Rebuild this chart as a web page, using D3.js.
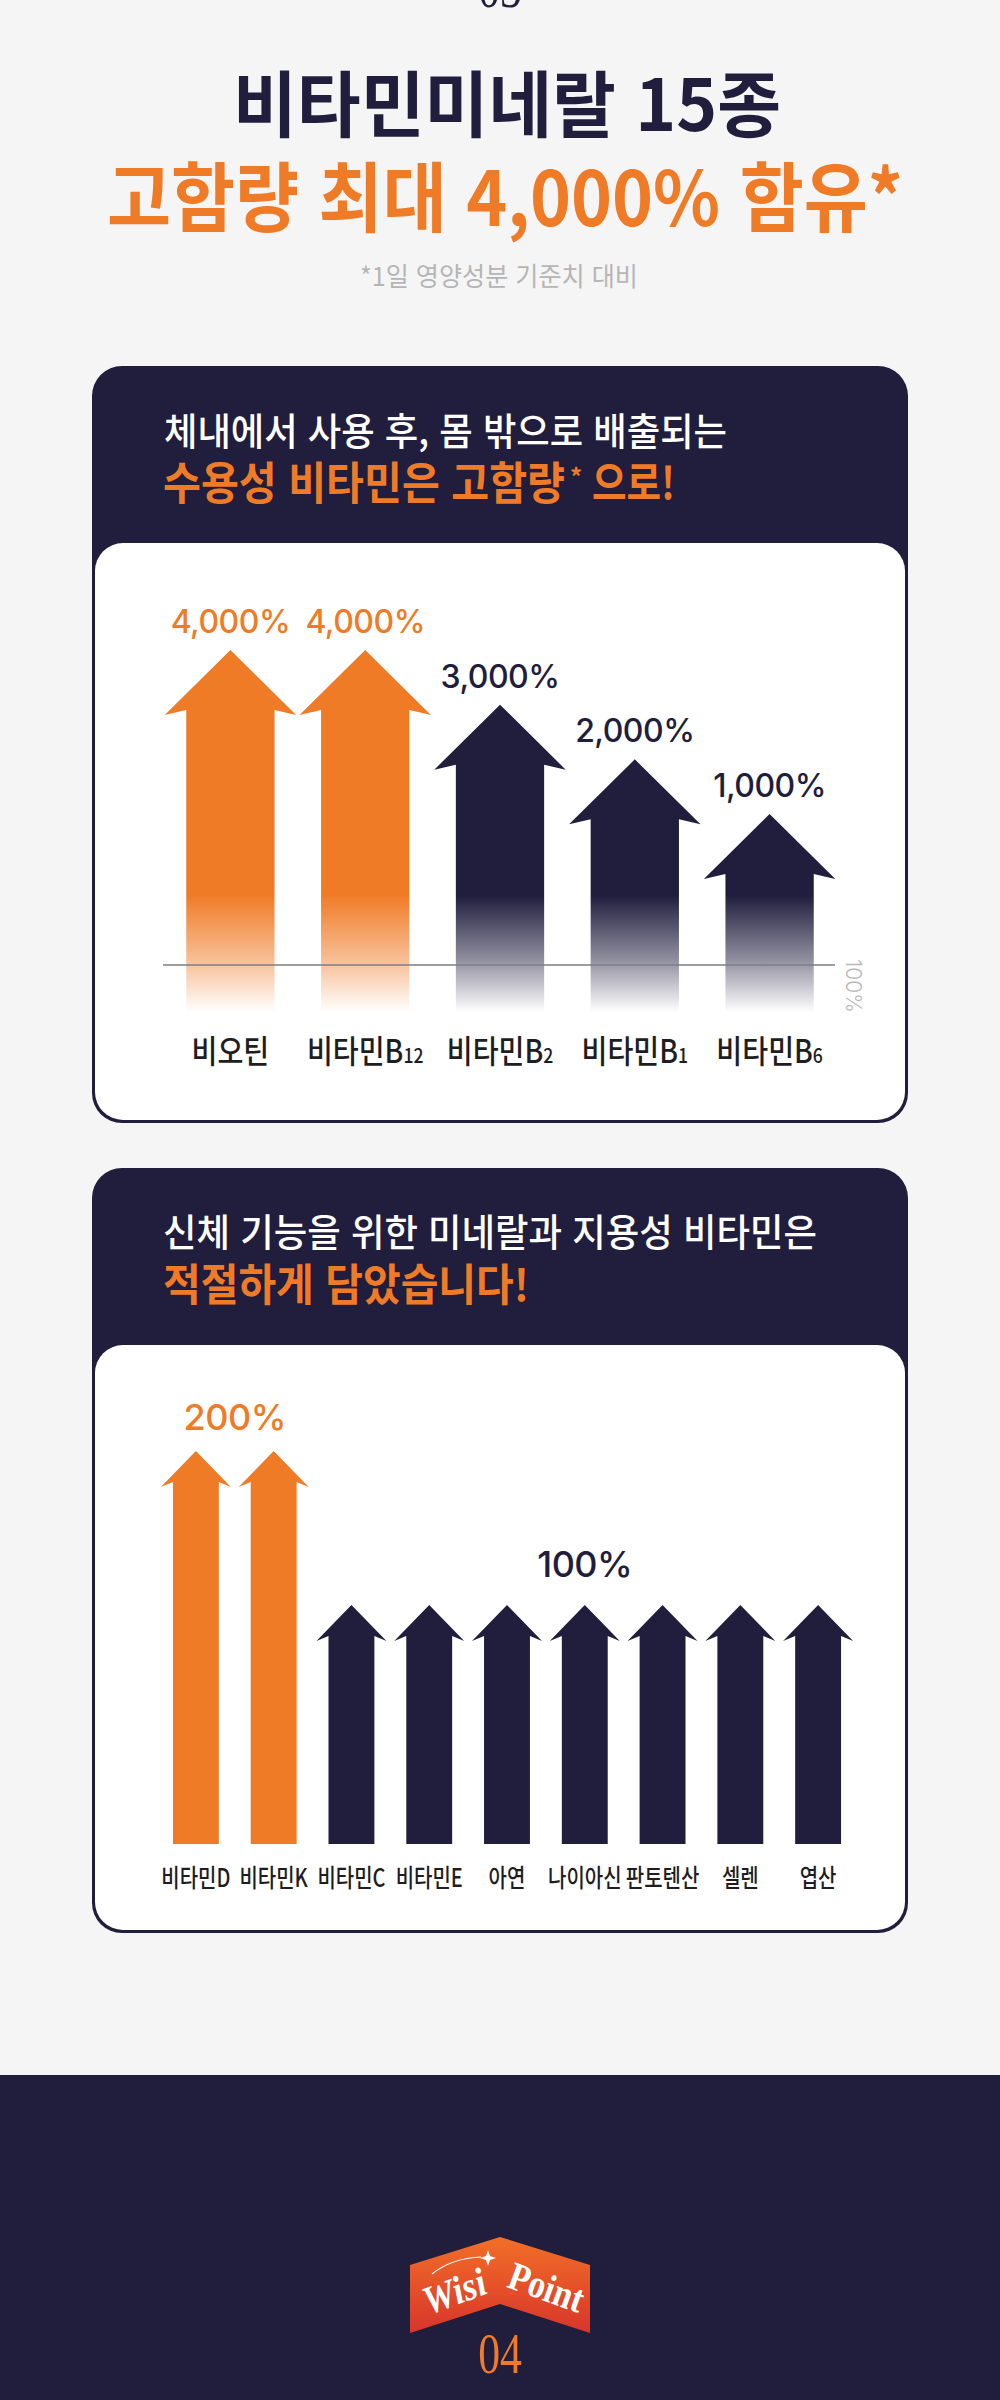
<!DOCTYPE html>
<html lang="ko">
<head>
<meta charset="utf-8">
<title>비타민미네랄 15종</title>
<script src="https://cdn.jsdelivr.net/npm/d3@7"></script>
<style>
  html, body { margin: 0; padding: 0; background: #f5f5f5; }
  svg { display: block; }
</style>
</head>
<body>
<div id="chart"></div>
<script>
// 수용성 비타민 (card 1)
const waterNames  = ["비오틴", "비타민B12", "비타민B2", "비타민B1", "비타민B6"];
const waterValues = [4000, 4000, 3000, 2000, 1000];

// 미네랄 + 지용성 비타민 (card 2)
const fatNames  = ["비타민D", "비타민K", "비타민C", "비타민E", "아연", "나이아신", "판토텐산", "셀렌", "엽산"];
const fatValues = [200, 200, 100, 100, 100, 100, 100, 100, 100];

const refLabel = "100%";

const NAVY = "#201d3d", ORANGE = "#f07b27";
const KR  = "'Noto Sans CJK KR', 'Noto Sans', sans-serif";
const NUM = "Inter, Lato, sans-serif";
const SERIF = "'Liberation Serif', 'DejaVu Serif', serif";

const svg = d3.select("#chart").append("svg")
    .attr("width", 1000)
    .attr("height", 2400);

svg.append("rect").attr("width", 1000).attr("height", 2400).attr("fill", "#f5f5f5");

const defs = svg.append("defs");
function fade(id, color) {
    const g = defs.append("linearGradient").attr("id", id)
        .attr("gradientUnits", "userSpaceOnUse")
        .attr("x1", 0).attr("y1", 895).attr("x2", 0).attr("y2", 1012);
    [[0, 1], [0.55, 0.5], [1, 0]].forEach(([o, a]) =>
        g.append("stop").attr("offset", o).attr("stop-color", color).attr("stop-opacity", a));
}
fade("fadeOrange", ORANGE);
fade("fadeNavy", NAVY);

const badge = defs.append("linearGradient").attr("id", "badge")
    .attr("x1", 0).attr("y1", 0).attr("x2", 0).attr("y2", 1);
badge.append("stop").attr("offset", 0).attr("stop-color", "#f26f27");
badge.append("stop").attr("offset", 1).attr("stop-color", "#d8352b");

// text squeezed to a given width (the original uses a condensed korean face)
function fitText(x, y, size, weight, color, anchor, len, str) {
    return svg.append("text")
        .attr("x", x).attr("y", y)
        .attr("text-anchor", anchor)
        .attr("textLength", len)
        .attr("lengthAdjust", "spacingAndGlyphs")
        .style("font-family", KR)
        .style("font-size", size + "px")
        .style("font-weight", weight)
        .style("fill", color)
        .text(str);
}

// ---- section number (cut at top) ----
svg.append("text")
    .attr("transform", "translate(500,7) scale(0.78,1)")
    .attr("text-anchor", "middle")
    .style("font-family", SERIF).style("font-size", "56px").style("fill", NAVY)
    .text("03");

// ---- title ----
fitText(507, 131, 72, 700, NAVY, "middle", 548, "비타민미네랄 15종");
fitText(505, 226, 76, 700, ORANGE, "middle", 796, "고함량 최대 4,000% 함유*");
fitText(499, 286, 26, 400, "#b5b5b5", "middle", 278, "*1일 영양성분 기준치 대비");

// ---- card frames ----
function card(top, panelTop, bottom) {
    svg.append("rect").attr("x", 92).attr("y", top)
        .attr("width", 816).attr("height", bottom - top)
        .attr("rx", 30).attr("fill", NAVY);
    svg.append("rect").attr("x", 95).attr("y", panelTop)
        .attr("width", 810).attr("height", bottom - panelTop - 3)
        .attr("rx", 28).attr("fill", "#fff");
}
card(366, 543, 1123);
card(1168, 1345, 1933);

fitText(164, 445, 38, 500, "#fff", "start", 563, "체내에서 사용 후, 몸 밖으로 배출되는");
fitText(163, 500, 45, 700, ORANGE, "start", 402, "수용성 비타민은 고함량");
svg.append("text")
    .attr("x", 570).attr("y", 486)
    .style("font-family", KR).style("font-size", "24px").style("font-weight", 700)
    .style("fill", ORANGE)
    .text("*");
fitText(592, 500, 45, 700, ORANGE, "start", 83, "으로!");

fitText(163, 1246, 38, 500, "#fff", "start", 654, "신체 기능을 위한 미네랄과 지용성 비타민은");
fitText(163, 1301, 44, 700, ORANGE, "start", 366, "적절하게 담았습니다!");

// arrow shape
function arrowPath(cx, top, bottom, headW, shaftW, headH, notch) {
    const hy = top + headH;
    return `M${cx},${top}L${cx + headW / 2},${hy}L${cx + shaftW / 2},${hy - notch}` +
           `L${cx + shaftW / 2},${bottom}L${cx - shaftW / 2},${bottom}` +
           `L${cx - shaftW / 2},${hy - notch}L${cx - headW / 2},${hy}Z`;
}

// ================= chart 1 =================
const water = waterNames.map((n, i) => ({ name: n, value: waterValues[i] }));
const waterMax = d3.max(waterValues);

const x1 = d3.scaleBand().domain(waterNames).range([163, 837]);
const y1 = d3.scaleLinear().domain([1000, 4000]).range([814, 650]);
const bw1 = x1.bandwidth();
const base1 = 965, bottom1 = 1012;

svg.selectAll(".arrow1")
    .data(water)
    .enter().append("path")
    .attr("class", "arrow1")
    .attr("d", d => arrowPath(x1(d.name) + bw1 / 2, y1(d.value), bottom1, bw1 * 0.975, bw1 * 0.655, 65, 5))
    .attr("fill", d => d.value === waterMax ? "url(#fadeOrange)" : "url(#fadeNavy)");

svg.selectAll(".val1")
    .data(water)
    .enter().append("text")
    .attr("class", "val1")
    .attr("x", d => x1(d.name) + bw1 / 2)
    .attr("y", d => y1(d.value) - 17)
    .attr("text-anchor", "middle")
    .style("font-family", NUM)
    .style("font-size", "32px")
    .style("font-weight", 500)
    .style("letter-spacing", "-0.5px")
    .style("fill", d => d.value === waterMax ? ORANGE : NAVY)
    .text(d => d3.format(",")(d.value) + "%");

// 100% reference line
svg.append("line")
    .attr("x1", 163).attr("x2", 835)
    .attr("y1", base1).attr("y2", base1)
    .attr("stroke", "#7d7d86").attr("stroke-width", 1.5);
svg.append("text")
    .attr("transform", `translate(846,${base1 - 6}) rotate(90)`)
    .style("font-family", NUM).style("font-size", "21px").style("font-weight", 300)
    .style("fill", "#b9b9b9")
    .text(refLabel);

// category labels, trailing digits drawn small (B12, B2...)
const lab1 = svg.selectAll(".lab1")
    .data(water)
    .enter().append("text")
    .attr("class", "lab1")
    .attr("transform", d => `translate(${x1(d.name) + bw1 / 2},1063) scale(0.88,1)`)
    .attr("text-anchor", "middle")
    .style("font-family", KR)
    .style("font-size", "32px")
    .style("font-weight", 500)
    .style("fill", "#1d1d22");
lab1.each(function (d) {
    const m = d.name.match(/^(.*?)(\d+)$/);
    const t = d3.select(this);
    if (!m) { t.text(d.name); return; }
    t.append("tspan").text(m[1]);
    t.append("tspan").style("font-size", "20px").text(m[2]);
});

// ================= chart 2 =================
const fat = fatNames.map((n, i) => ({ name: n, value: fatValues[i] }));
const fatMax = d3.max(fatValues);

const x2 = d3.scaleBand().domain(fatNames).range([157, 857]);
const y2 = d3.scaleLinear().domain([100, 200]).range([1605, 1451]);
const bw2 = x2.bandwidth();
const bottom2 = 1844;

svg.selectAll(".arrow2")
    .data(fat)
    .enter().append("path")
    .attr("class", "arrow2")
    .attr("d", d => arrowPath(x2(d.name) + bw2 / 2, y2(d.value), bottom2, bw2 * 0.9, bw2 * 0.59, 36, 5))
    .attr("fill", d => d.value === fatMax ? ORANGE : NAVY);

// one label per value group, centred over the group
const groups = d3.groups(fat, d => d.value);
svg.selectAll(".val2")
    .data(groups)
    .enter().append("text")
    .attr("class", "val2")
    .attr("x", ([, items]) => d3.mean(items, d => x2(d.name) + bw2 / 2))
    .attr("y", ([v]) => y2(v) - (v === fatMax ? 21 : 28))
    .attr("text-anchor", "middle")
    .style("font-family", NUM)
    .style("font-size", "36px")
    .style("font-weight", 500)
    .style("letter-spacing", "-0.5px")
    .style("fill", ([v]) => v === fatMax ? ORANGE : NAVY)
    .text(([v]) => v + "%");

svg.selectAll(".lab2")
    .data(fat)
    .enter().append("text")
    .attr("class", "lab2")
    .attr("transform", d => `translate(${x2(d.name) + bw2 / 2},1887) scale(0.8,1)`)
    .attr("text-anchor", "middle")
    .style("font-family", KR)
    .style("font-size", "25px")
    .style("font-weight", 500)
    .style("fill", "#1d1d22")
    .text(d => d.name);

// ================= footer =================
svg.append("rect").attr("x", 0).attr("y", 2075).attr("width", 1000).attr("height", 325).attr("fill", NAVY);

svg.append("polygon")
    .attr("points", "410,2265 500,2237 590,2265 590,2333 500,2304 410,2333")
    .attr("fill", "url(#badge)");

svg.append("text")
    .attr("transform", "translate(459,2304) rotate(-20) scale(0.9,1)")
    .attr("text-anchor", "middle")
    .style("font-family", SERIF).style("font-size", "40px").style("font-weight", 700)
    .style("font-style", "italic").style("fill", "#fff")
    .text("Wisi");
svg.append("text")
    .attr("transform", "translate(542,2300) rotate(20) scale(0.85,1)")
    .attr("text-anchor", "middle")
    .style("font-family", SERIF).style("font-size", "40px").style("font-weight", 700)
    .style("fill", "#fff")
    .text("Point");
// sparkle over "Wisi"
svg.append("path")
    .attr("d", "M488,2250 L490,2256 L496,2258 L490,2260 L488,2266 L486,2260 L480,2258 L486,2256 Z")
    .attr("fill", "#fff");
svg.append("path")
    .attr("d", "M432,2274 Q452,2258 481,2257")
    .attr("fill", "none").attr("stroke", "#fff").attr("stroke-width", 1.2);

svg.append("text")
    .attr("transform", "translate(500,2373) scale(0.78,1)")
    .attr("text-anchor", "middle")
    .style("font-family", SERIF).style("font-size", "56px").style("fill", "#ee7a2a")
    .text("04");
</script>
</body>
</html>
